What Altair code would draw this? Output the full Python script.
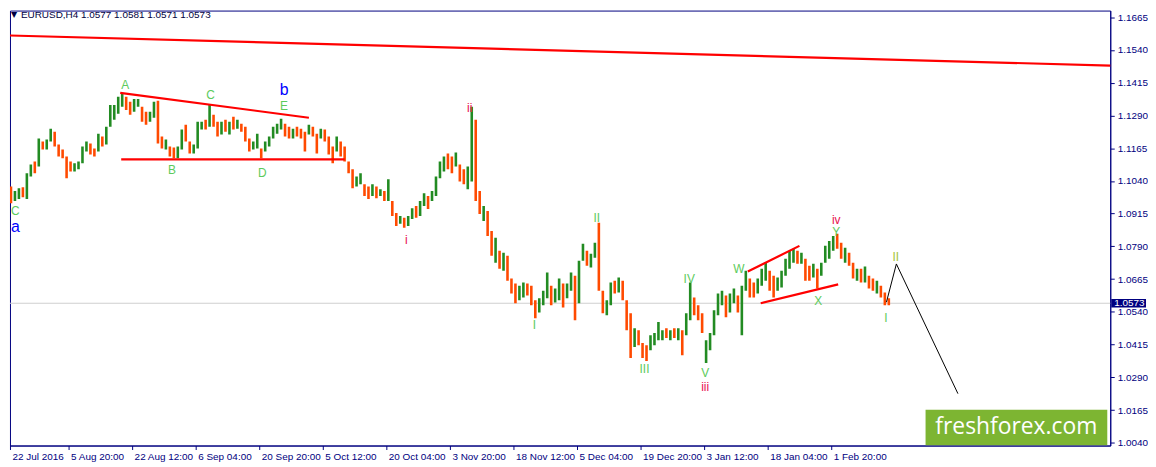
import altair as alt
import pandas as pd

# EURUSD H4, one entry per group of four candles (high / low, and whether the group closed up or down)
HIGH = [
    1.1046, 1.1019, 1.1001, 1.1012, 1.1016, 1.1069, 1.1103, 1.1114, 1.1202, 1.1190,
    1.1198, 1.1239, 1.1228, 1.1179, 1.1160, 1.1133, 1.1114, 1.1107, 1.1114, 1.1171,
    1.1190, 1.1183, 1.1164, 1.1220, 1.1209, 1.1247, 1.1330, 1.1330, 1.1361, 1.1372,
    1.1361, 1.1342, 1.1353, 1.1353, 1.1323, 1.1304, 1.1304, 1.1342, 1.1346, 1.1209,
    1.1198, 1.1171, 1.1167, 1.1171, 1.1236, 1.1254, 1.1190, 1.1179, 1.1266, 1.1266,
    1.1273, 1.1330, 1.1292, 1.1266, 1.1266, 1.1273, 1.1266, 1.1285, 1.1273, 1.1258,
    1.1247, 1.1202, 1.1190, 1.1220, 1.1164, 1.1190, 1.1209, 1.1247, 1.1258, 1.1277,
    1.1258, 1.1247, 1.1239, 1.1247, 1.1239, 1.1228, 1.1254, 1.1247, 1.1220, 1.1239,
    1.1236, 1.1209, 1.1171, 1.1209, 1.1190, 1.1171, 1.1114, 1.1084, 1.1057, 1.1069,
    1.1027, 1.1019, 1.1027, 1.1019, 1.1008, 1.1001, 1.1046, 1.0963, 1.0917, 1.0906,
    1.0899, 1.0906, 1.0936, 1.0944, 1.0963, 1.0993, 1.0982, 1.1001, 1.1057, 1.1114,
    1.1133, 1.1145, 1.1133, 1.1148, 1.1103, 1.1084, 1.1095, 1.1323, 1.1273, 1.1001,
    1.0944, 1.0925, 1.0849, 1.0823, 1.0773, 1.0766, 1.0754, 1.0667, 1.0648, 1.0640,
    1.0652, 1.0648, 1.0640, 1.0584, 1.0592, 1.0621, 1.0690, 1.0640, 1.0629, 1.0667,
    1.0648, 1.0648, 1.0690, 1.0678, 1.0735, 1.0800, 1.0773, 1.0762, 1.0804, 1.0880,
    1.0621, 1.0584, 1.0652, 1.0659, 1.0671, 1.0659, 1.0584, 1.0535, 1.0478, 1.0470,
    1.0421, 1.0413, 1.0451, 1.0459, 1.0501, 1.0470, 1.0478, 1.0470, 1.0478, 1.0478,
    1.0470, 1.0535, 1.0652, 1.0595, 1.0565, 1.0535, 1.0432, 1.0459, 1.0546, 1.0610,
    1.0621, 1.0603, 1.0610, 1.0629, 1.0603, 1.0640, 1.0697, 1.0667, 1.0652, 1.0667,
    1.0705, 1.0728, 1.0697, 1.0678, 1.0671, 1.0697, 1.0743, 1.0773, 1.0781, 1.0773,
    1.0766, 1.0743, 1.0716, 1.0724, 1.0705, 1.0728, 1.0792, 1.0811, 1.0830, 1.0838,
    1.0804, 1.0785, 1.0766, 1.0728, 1.0705, 1.0705, 1.0713, 1.0678, 1.0667, 1.0659,
    1.0640, 1.0614, 1.0592,
]
LOW = [
    1.1001, 1.0955, 1.0963, 1.0971, 1.0978, 1.0971, 1.1057, 1.1069, 1.1095, 1.1160,
    1.1160, 1.1190, 1.1171, 1.1133, 1.1126, 1.1050, 1.1076, 1.1076, 1.1084, 1.1107,
    1.1152, 1.1141, 1.1133, 1.1152, 1.1171, 1.1179, 1.1247, 1.1273, 1.1296, 1.1323,
    1.1311, 1.1292, 1.1304, 1.1323, 1.1266, 1.1254, 1.1266, 1.1281, 1.1183, 1.1164,
    1.1160, 1.1133, 1.1126, 1.1126, 1.1160, 1.1190, 1.1145, 1.1145, 1.1164, 1.1236,
    1.1236, 1.1247, 1.1247, 1.1209, 1.1217, 1.1228, 1.1217, 1.1236, 1.1239, 1.1228,
    1.1190, 1.1152, 1.1160, 1.1164, 1.1126, 1.1152, 1.1171, 1.1202, 1.1220, 1.1236,
    1.1209, 1.1202, 1.1202, 1.1209, 1.1202, 1.1152, 1.1217, 1.1209, 1.1145, 1.1202,
    1.1190, 1.1141, 1.1107, 1.1152, 1.1133, 1.1114, 1.1069, 1.1012, 1.1019, 1.1027,
    1.0982, 1.0971, 1.0982, 1.0974, 1.0982, 1.0963, 1.0963, 1.0906, 1.0868, 1.0876,
    1.0861, 1.0868, 1.0895, 1.0899, 1.0906, 1.0944, 1.0933, 1.0963, 1.0982, 1.1050,
    1.1076, 1.1084, 1.1069, 1.1095, 1.1038, 1.1027, 1.1008, 1.1038, 1.0963, 1.0914,
    1.0887, 1.0830, 1.0754, 1.0728, 1.0705, 1.0697, 1.0659, 1.0610, 1.0573, 1.0584,
    1.0595, 1.0603, 1.0565, 1.0516, 1.0538, 1.0565, 1.0592, 1.0565, 1.0576, 1.0584,
    1.0557, 1.0592, 1.0621, 1.0508, 1.0573, 1.0735, 1.0716, 1.0709, 1.0747, 1.0621,
    1.0535, 1.0527, 1.0565, 1.0610, 1.0614, 1.0584, 1.0470, 1.0364, 1.0406, 1.0413,
    1.0364, 1.0353, 1.0394, 1.0413, 1.0432, 1.0432, 1.0440, 1.0432, 1.0440, 1.0432,
    1.0375, 1.0451, 1.0508, 1.0527, 1.0508, 1.0459, 1.0345, 1.0394, 1.0451, 1.0527,
    1.0565, 1.0520, 1.0538, 1.0573, 1.0538, 1.0451, 1.0621, 1.0595, 1.0595, 1.0610,
    1.0640, 1.0659, 1.0621, 1.0595, 1.0621, 1.0633, 1.0678, 1.0705, 1.0728, 1.0724,
    1.0724, 1.0659, 1.0659, 1.0671, 1.0629, 1.0678, 1.0728, 1.0743, 1.0773, 1.0781,
    1.0743, 1.0728, 1.0716, 1.0667, 1.0659, 1.0652, 1.0652, 1.0629, 1.0621, 1.0610,
    1.0595, 1.0565, 1.0565,
]
DIRECTION = (
    "d d u u d u u d u d  u u d d d d d u u u  u d d u d u u u u u  "
    "d d u u d d u u d d  u d d u u d d u u u  d u d d u d u d u d  "
    "d d u u d u u u u u  d d u d d d u d d u  d d d u d d d d u u  "
    "d d u d u d u d d u  d u u d u u d u u u  u d d u d d u u d d  "
    "u d d u d u d d d u  u d d d u u u d u u  d u u d u u d u u d  "
    "d u u d u d d d u d  d d u u u u d u d u  d u u d d d u u u u  "
    "u d u u d u u d d u  u u d d u u u u u d  u d d u d u u u u d  "
    "d u d d u d u d d u  d d d"
).split()

LAST_PRICE = 1.0573
TITLE = "EURUSD,H4  1.0577 1.0581 1.0571 1.0573"

TICK_POS = [1.25, 16, 32, 48, 64, 80, 96, 112, 128, 144, 160, 176, 192, 208]
TICK_LABELS = [
    "22 Jul 2016", "5 Aug 20:00", "22 Aug 12:00", "6 Sep 04:00", "20 Sep 20:00",
    "5 Oct 12:00", "20 Oct 04:00", "3 Nov 20:00", "18 Nov 12:00", "5 Dec 04:00",
    "19 Dec 20:00", "3 Jan 12:00", "18 Jan 04:00", "1 Feb 20:00",
]
PRICE_TICKS = [1.0040, 1.0165, 1.0290, 1.0415, 1.0540, 1.0665, 1.0790,
               1.0915, 1.1040, 1.1165, 1.1290, 1.1415, 1.1540, 1.1665]

# trend lines: start index, end index, start price, end price
LINE_X = [1.25, 29.0, 29.25, 187.0, 190.25]
LINE_X2 = [278.25, 76.5, 85.5, 200.0, 209.75]
LINE_Y = [1.1595, 1.1376, 1.1122, 1.0694, 1.0573]
LINE_Y2 = [1.1480, 1.1281, 1.1122, 1.0792, 1.0645]

# projected path
PATH_X = [221.9, 224.4, 239.9]
PATH_Y = [1.0577, 1.0723, 1.0228]

# wave marks
WAVE_TEXT = ["C", "a", "A", "C", "b", "E", "B", "D", "i", "ii", "I", "II", "III",
             "IV", "V", "iii", "W", "X", "iv", "Y", "II", "I"]
WAVE_X = [2.6, 2.6, 30.25, 51.75, 70.25, 70.25, 42.0, 64.75, 101.0, 117.0, 133.25,
          149.0, 161.0, 172.25, 176.25, 176.25, 184.75, 204.75, 209.25, 209.25,
          224.25, 221.75]
WAVE_Y = [1.0926, 1.0864, 1.1406, 1.1368, 1.1388, 1.1326, 1.1080, 1.1069, 1.0815,
          1.1319, 1.0489, 1.0899, 1.0322, 1.0667, 1.0307, 1.0254, 1.0705, 1.0580,
          1.0892, 1.0843, 1.0751, 1.0516]
WAVE_KIND = ["g", "b", "g", "g", "b", "g", "g", "g", "r", "r", "g", "g", "g",
             "g", "g", "r", "g", "g", "r", "g", "o", "g"]

NAVY = "#000080"
FONT = "Liberation Sans"
KIND_COLOR = {"g": "#5ccb5c", "b": "#0000ff", "r": "#e8104f", "o": "#a3c43a"}
KIND_SIZE = {"g": 12, "b": 16, "r": 12, "o": 12}

x_scale = alt.Scale(domain=[1.25, 278.25], nice=False, zero=False)
y_scale = alt.Scale(domain=[1.0030, 1.1690], nice=False, zero=False)

label_expr = "[" + ",".join(f"'{t}'" for t in TICK_LABELS) + "][round(datum.value / 16)]"

x_axis = alt.Axis(
    values=TICK_POS, labelExpr=label_expr, title=None, grid=False,
    labelAlign="left", labelOffset=2, labelPadding=2, tickSize=4,
    labelFlush=False, labelOverlap=False,
    domainColor=NAVY, tickColor=NAVY, labelColor=NAVY,
    labelFont=FONT, labelFontSize=10,
)
y_axis = alt.Axis(
    orient="right", values=PRICE_TICKS, format=".4f", title=None,
    grid=False, tickSize=4, labelPadding=3, labelFlush=False,
    labelOverlap=False, domainColor=NAVY, tickColor=NAVY,
    labelColor=NAVY, labelFont=FONT, labelFontSize=10,
)


def px(field):
    return alt.X(field, scale=x_scale, axis=x_axis)


def py(field):
    return alt.Y(field, scale=y_scale, axis=y_axis)


bars_df = pd.DataFrame({
    "idx": [k + 0.5 for k in range(len(HIGH))],
    "high": HIGH,
    "low": LOW,
    "dir": DIRECTION,
})

bars = (
    alt.Chart(bars_df)
    .mark_rule(strokeWidth=2.6, clip=True)
    .encode(
        x=px("idx:Q"),
        y=py("low:Q"),
        y2="high:Q",
        color=alt.Color(
            "dir:N",
            scale=alt.Scale(domain=["u", "d"], range=["#228b22", "#ff4a00"]),
            legend=None,
        ),
    )
)

last_df = pd.DataFrame({"price": [LAST_PRICE]})
last_line = alt.Chart(last_df).mark_rule(color="#cfcfcf", strokeWidth=1).encode(
    y=py("price:Q")
)

lines_df = pd.DataFrame({"x": LINE_X, "x2": LINE_X2, "y": LINE_Y, "y2": LINE_Y2})
trend = alt.Chart(lines_df).mark_rule(color="#ff0000", strokeWidth=2.2).encode(
    x=px("x:Q"), x2="x2:Q", y=py("y:Q"), y2="y2:Q"
)

path_df = pd.DataFrame({"idx": PATH_X, "price": PATH_Y, "order": [0, 1, 2]})
path = alt.Chart(path_df).mark_line(color="#000000", strokeWidth=1).encode(
    x=px("idx:Q"), y=py("price:Q"), order="order:Q"
)

waves_df = pd.DataFrame({
    "text": WAVE_TEXT,
    "idx": WAVE_X,
    "price": WAVE_Y,
    "col": [KIND_COLOR[k] for k in WAVE_KIND],
    "fs": [KIND_SIZE[k] for k in WAVE_KIND],
})
waves = alt.Chart(waves_df).mark_text(font=FONT, baseline="middle").encode(
    x=px("idx:Q"),
    y=py("price:Q"),
    text="text:N",
    color=alt.Color("col:N", scale=None),
    size=alt.Size("fs:Q", scale=None),
)

# freshforex watermark, bottom right
brand_df = pd.DataFrame({"x": [231.75], "x2": [277.5], "y": [1.0031], "y2": [1.0167],
                         "tx": [254.6], "ty": [1.0099], "t": ["freshforex.com"]})
brand_box = alt.Chart(brand_df).mark_rect(color="#7db532").encode(
    x=px("x:Q"), x2="x2:Q", y=py("y:Q"), y2="y2:Q"
)
brand_text = alt.Chart(brand_df).mark_text(
    font="Open Sans", fontSize=23, color="#ffffff", baseline="middle"
).encode(x=px("tx:Q"), y=py("ty:Q"), text="t:N")

# symbol header, top left
head_df = pd.DataFrame({"t": [TITLE], "arrow": ["\u25bc"]})
head_arrow = alt.Chart(head_df).mark_text(
    font="DejaVu Sans", fontSize=8, color="#000040", baseline="middle"
).encode(x=alt.value(4), y=alt.value(4), text="arrow:N")
head_text = alt.Chart(head_df).mark_text(
    font=FONT, fontSize=10, color="#000040", align="left", baseline="middle"
).encode(x=alt.value(11), y=alt.value(4), text="t:N")

# current price tag on the price axis
tag_df = pd.DataFrame({"lo": [LAST_PRICE - 0.0016], "hi": [LAST_PRICE + 0.0016],
                       "price": [LAST_PRICE], "t": [f"{LAST_PRICE:.4f}"]})
tag_box = alt.Chart(tag_df).mark_rect(color=NAVY).encode(
    x=alt.value(1109), x2=alt.value(1144), y=py("lo:Q"), y2="hi:Q"
)
tag_text = alt.Chart(tag_df).mark_text(
    font=FONT, fontSize=10, color="#ffffff", align="left", baseline="middle"
).encode(x=alt.value(1112), y=py("price:Q"), text="t:N")

chart = (
    alt.layer(
        last_line, bars, trend, path, waves, brand_box, brand_text,
        head_arrow, head_text, tag_box, tag_text,
    )
    .properties(width=1108, height=438, padding=0, background="#ffffff")
    .configure_view(stroke=NAVY, strokeWidth=1)
)

chart.save("out.html", embed_options={"renderer": "svg", "actions": False})
